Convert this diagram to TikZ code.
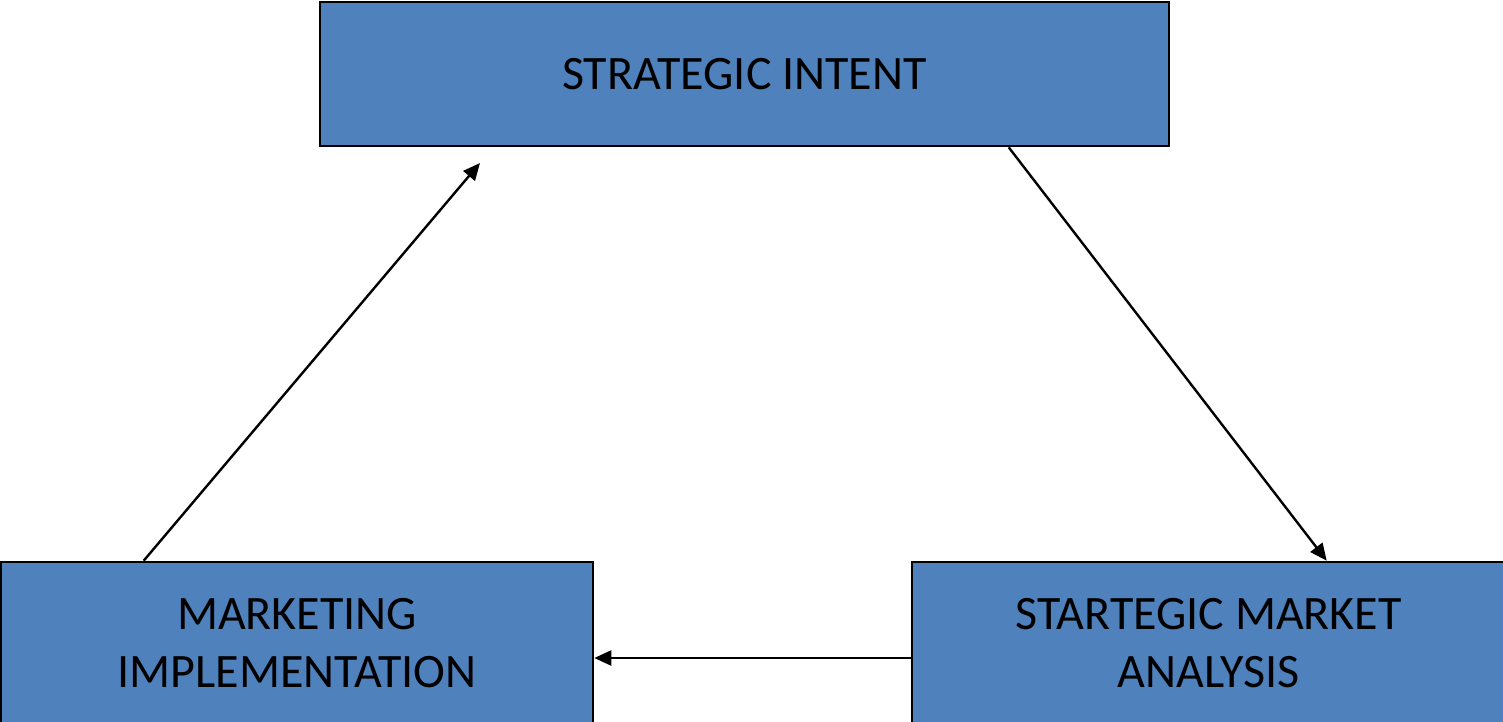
\documentclass[tikz,border=0pt]{standalone}
\usepackage{fontspec}
\setmainfont{Carlito}
\usetikzlibrary{arrows.meta,calc}
\definecolor{boxblue}{HTML}{4F81BD}
\tikzset{
  block/.style={draw=black, fill=boxblue, line width=2.6pt, rectangle, inner sep=0pt,
    align=center, font=\fontsize{48}{58}\selectfont, text=black},
  conn/.style={line width=2.4pt, -{Triangle[length=17pt,width=15pt]}}
}
\begin{document}
\begin{tikzpicture}[x=1pt,y=-1pt]
\useasboundingbox (0,0) rectangle (1503,722);
\begin{scope}
\clip (0,0) rectangle (1503,722);
\node[block, minimum width=849pt, minimum height=144pt] (si) at (744.5,74) {STRATEGIC INTENT};
\node[block, minimum width=592pt, minimum height=162pt] (mi) at (297,643) {MARKETING\\IMPLEMENTATION};
\node[block, minimum width=593pt, minimum height=162pt] (sma) at (1208.5,643) {STARTEGIC MARKET\\ANALYSIS};
\coordinate (tip) at (480,163);
\draw[conn] ([xshift=144pt]mi.north west) -- (tip);
\draw[conn] ([xshift=690pt]si.south west) -- ([xshift=416pt]sma.north west);
\draw[conn] ([yshift=-15pt]sma.west) -- ([yshift=-15pt]mi.east);
\end{scope}
\end{tikzpicture}
\end{document}
